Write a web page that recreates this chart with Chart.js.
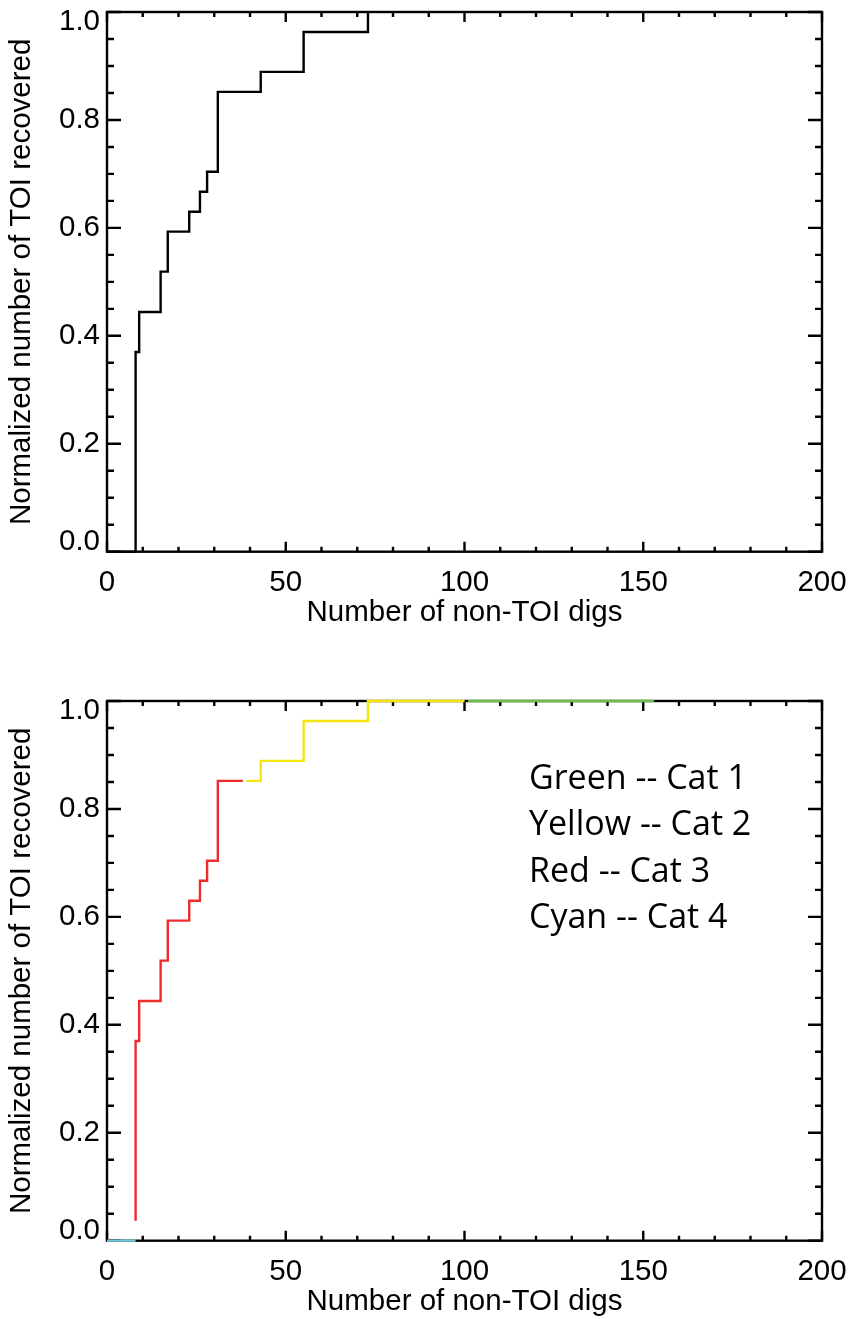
<!DOCTYPE html>
<html>
<head>
<meta charset="utf-8">
<script src="https://cdn.jsdelivr.net/npm/chart.js@4.4.0/dist/chart.umd.min.js"></script>
<style>
  body { margin: 0; background: #fff; }
  #wrap { position: relative; width: 850px; height: 1319px; }
  canvas { position: absolute; left: 0; }
</style>
</head>
<body>
<div id="wrap">
  <canvas id="allChart" width="850" height="689" style="top:0"></canvas>
  <canvas id="catChart" width="850" height="630" style="top:689px"></canvas>
</div>
<script>
// cumulative fraction of TOIs recovered vs. number of non-TOI digs
var digs      = [0, 8, 9, 15, 17, 23, 26, 28, 31, 43, 55, 73];
var recovered = [0, 0.370, 0.444, 0.519, 0.593, 0.630, 0.667, 0.704, 0.852, 0.889, 0.963, 1.0];

// the same curve split up by category
var cat4Digs = [0, 8];
var cat4Frac = [0, 0];
var cat3Digs = [8, 8, 9, 15, 17, 23, 26, 28, 31, 38];
var cat3Frac = [0.037, 0.370, 0.444, 0.519, 0.593, 0.630, 0.667, 0.704, 0.852, 0.852];
var cat2Digs = [39, 43, 55, 73, 100];
var cat2Frac = [0.852, 0.889, 0.963, 1.0, 1.0];
var cat1Digs = [101, 153];
var cat1Frac = [1.0, 1.0];

var catLabels = ['Green -- Cat 1', 'Yellow -- Cat 2', 'Red -- Cat 3', 'Cyan -- Cat 4'];

var xTickValues = [0, 50, 100, 150, 200];
var yTickValues = [0, 0.2, 0.4, 0.6, 0.8, 1.0];
var xMinor = 10, yMinor = 0.05;

Chart.defaults.font.family = '"Liberation Sans", Arial, Helvetica, sans-serif';
Chart.defaults.font.size = 29.5;
Chart.defaults.color = '#000';

function pts(xs, ys) {
  return xs.map(function (x, i) { return { x: x, y: ys[i] }; });
}

function line(xs, ys, color) {
  return {
    data: pts(xs, ys),
    borderColor: color,
    borderWidth: 2.4,
    pointRadius: 0,
    stepped: true,
    fill: false,
    clip: false
  };
}

// box round the plot with inward ticks on all four sides
var framePlugin = {
  id: 'frame',
  beforeDraw: function (chart) {
    // keep the end labels of the y axis inside the box height
    var ys = chart.scales.y;
    ys.getLabelItems(chart.chartArea).forEach(function (item, i) {
      if (item._nudged) return;
      var v = ys.ticks[i].value;
      if (v === ys.min) item.options.translation[1] -= 10;
      if (v === ys.max) item.options.translation[1] += 10;
      item._nudged = true;
    });
  },
  beforeDatasetsDraw: function (chart) {
    var ctx = chart.ctx, a = chart.chartArea;
    var xs = chart.scales.x, ys = chart.scales.y;
    ctx.save();
    ctx.strokeStyle = '#000';
    ctx.lineWidth = 2.4;
    ctx.strokeRect(a.left, a.top, a.right - a.left, a.bottom - a.top);
    ctx.beginPath();
    var nx = Math.round((xs.max - xs.min) / xMinor);
    for (var i = 0; i <= nx; i++) {
      var v = xs.min + i * xMinor;
      var px = xs.getPixelForValue(v);
      var len = xTickValues.indexOf(v) >= 0 ? 10 : 5;
      ctx.moveTo(px, a.bottom); ctx.lineTo(px, a.bottom - len);
      ctx.moveTo(px, a.top); ctx.lineTo(px, a.top + len);
    }
    var ny = Math.round((ys.max - ys.min) / yMinor);
    for (var j = 0; j <= ny; j++) {
      var py = ys.getPixelForValue(ys.min + j * yMinor);
      var ylen = (j % 4 === 0) ? 14 : 7;
      ctx.moveTo(a.left, py); ctx.lineTo(a.left + ylen, py);
      ctx.moveTo(a.right, py); ctx.lineTo(a.right - ylen, py);
    }
    ctx.stroke();
    ctx.restore();
  }
};

// category key written inside the lower panel
var keyPlugin = {
  id: 'catKey',
  afterDatasetsDraw: function (chart, args, opts) {
    if (!opts.lines) return;
    var ctx = chart.ctx, a = chart.chartArea;
    ctx.save();
    ctx.font = '34px "Open Sans", "Noto Sans", sans-serif';
    ctx.fillStyle = '#000';
    ctx.textBaseline = 'alphabetic';
    opts.lines.forEach(function (t, i) {
      ctx.fillText(t, 529, a.top + 88 + i * 46.3);
    });
    ctx.restore();
  }
};

function makeChart(id, datasets, padBottom, keyLines) {
  return new Chart(document.getElementById(id), {
    type: 'line',
    data: { datasets: datasets },
    plugins: [framePlugin, keyPlugin],
    options: {
      responsive: false,
      animation: false,
      layout: { padding: { left: 0, right: 28, top: 12, bottom: padBottom } },
      plugins: {
        legend: { display: false },
        tooltip: { enabled: false },
        catKey: { lines: keyLines }
      },
      scales: {
        x: {
          type: 'linear',
          min: 0,
          max: 200,
          grid: { display: false, drawTicks: false },
          border: { display: false },
          afterBuildTicks: function (s) { s.ticks = xTickValues.map(function (v) { return { value: v }; }); },
          afterFit: function (s) { s.height = 76; s.paddingLeft = 0; s.paddingRight = 0; },
          ticks: { padding: 13, maxRotation: 0, autoSkip: false },
          title: { display: true, text: 'Number of non-TOI digs', padding: { top: 0, bottom: -3 } }
        },
        y: {
          min: 0,
          max: 1,
          grid: { display: false, drawTicks: false },
          border: { display: false },
          afterBuildTicks: function (s) { s.ticks = yTickValues.map(function (v) { return { value: v }; }); },
          afterFit: function (s) { s.width = 107; s.paddingTop = 0; s.paddingBottom = 0; },
          ticks: {
            padding: 7,
            autoSkip: false,
            callback: function (v) { return v.toFixed(1); }
          },
          title: { display: true, text: 'Normalized number of TOI recovered', padding: { top: 4, bottom: 0 } }
        }
      }
    }
  });
}

makeChart('allChart', [line(digs, recovered, '#000000')], 61.3, null);

makeChart('catChart', [
  line(cat4Digs, cat4Frac, '#6ec5d6'),
  line(cat3Digs, cat3Frac, '#ee2c2c'),
  line(cat2Digs, cat2Frac, '#f6e60e'),
  line(cat1Digs, cat1Frac, '#6bbd4b')
], 2.3, catLabels);
</script>
</body>
</html>
